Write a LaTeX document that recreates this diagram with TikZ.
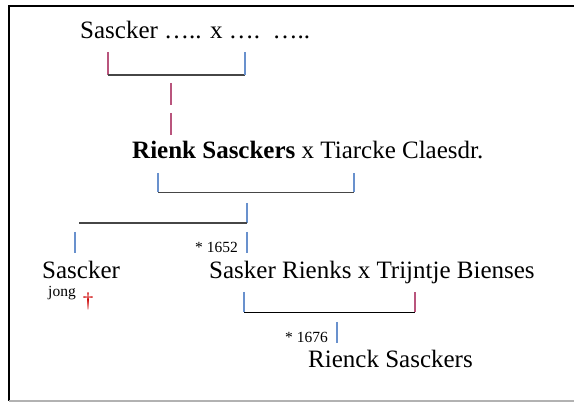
\documentclass[tikz,border=0pt]{standalone}
\usepackage{fontspec}
\setmainfont{Liberation Serif}
\definecolor{tickred}{RGB}{185,85,125}
\definecolor{tickblue}{RGB}{105,145,205}
\definecolor{barline}{RGB}{70,70,70}
\tikzset{
    person/.style={anchor=base west, inner sep=0pt, font=\fontsize{25}{30}\selectfont},
    year/.style={anchor=base east, inner sep=0pt, font=\fontsize{15.5}{18}\selectfont},
    tick/.style={line width=1.1pt},
    bar/.style={line width=1.4pt, barline}
}
\begin{document}
\begin{tikzpicture}[x=1pt, y=-1pt]
    \useasboundingbox (0,0) rectangle (574,403);

    % Frame
    \draw[line width=2.5pt] (574,6) -- (9,6) -- (9,401);
    \draw[line width=2pt, black!30] (9,401.5) -- (574,401.5);

    % First generation
    \node[person] (sascker) at (80,39) {Sascker ….. x ….\ \ …..};
    \coordinate (a1) at (108,52);
    \coordinate (a2) at (108,75);
    \coordinate (a3) at (245,75);
    \coordinate (a4) at (245,52);
    \draw[tick, tickred] (a1) -- (a2);
    \draw[bar] (a2) -- (a3);
    \draw[tick, tickblue] (a3) -- (a4);
    \coordinate (d1) at (171,83);
    \coordinate (d2) at (171,105);
    \coordinate (d3) at (171,113);
    \coordinate (d4) at (171,135);
    \draw[tick, tickred] (d1) -- (d2);
    \draw[tick, tickred] (d3) -- (d4);

    % Second generation
    \node[person] (rienk) at (132,159) {\textbf{Rienk Sasckers} x Tiarcke Claesdr.};
    \coordinate (b1) at (158,173);
    \coordinate (b2) at (158,192.5);
    \coordinate (b3) at (354,192.5);
    \coordinate (b4) at (354,173);
    \draw[tick, tickblue] (b1) -- (b2);
    \draw[bar] (b2) -- (b3);
    \draw[tick, tickblue] (b3) -- (b4);
    \coordinate (c1) at (247,203);
    \coordinate (c2) at (247,223);
    \coordinate (c3) at (79,223);
    \draw[tick, tickblue] (c1) -- (c2);
    \draw[bar] (c2) -- (c3);
    \coordinate (e1) at (75,232);
    \coordinate (e2) at (75,253);
    \coordinate (f1) at (247,232);
    \coordinate (f2) at (247,253);
    \draw[tick, tickblue] (e1) -- (e2);
    \draw[tick, tickblue] (f1) -- (f2);
    \node[year] (born1) at (238,253) {* 1652};

    % Third generation
    \node[person] (young) at (42,279) {Sascker};
    \node[anchor=base west, inner sep=0pt, font=\fontsize{15.5}{18}\selectfont] (jong) at (48,297) {jong};
    \node[anchor=base, inner sep=0pt, font=\fontsize{21}{24}\selectfont, red!80!black] (dagger) at (88,308) {†};
    \node[person] (sasker) at (209,279) {Sasker Rienks x Trijntje Bienses};
    \coordinate (g1) at (244,292);
    \coordinate (g2) at (244,312.5);
    \coordinate (g3) at (415,312.5);
    \coordinate (g4) at (415,292);
    \draw[tick, tickblue] (g1) -- (g2);
    \draw[line width=1.4pt] (g2) -- (g3);
    \draw[tick, tickred] (g3) -- (g4);
    \coordinate (h1) at (337,322);
    \coordinate (h2) at (337,343);
    \draw[tick, tickblue] (h1) -- (h2);
    \node[year] (born2) at (328,343) {* 1676};

    % Fourth generation
    \node[person] (rienck) at (308,368) {Rienck Sasckers};

\end{tikzpicture}
\end{document}
